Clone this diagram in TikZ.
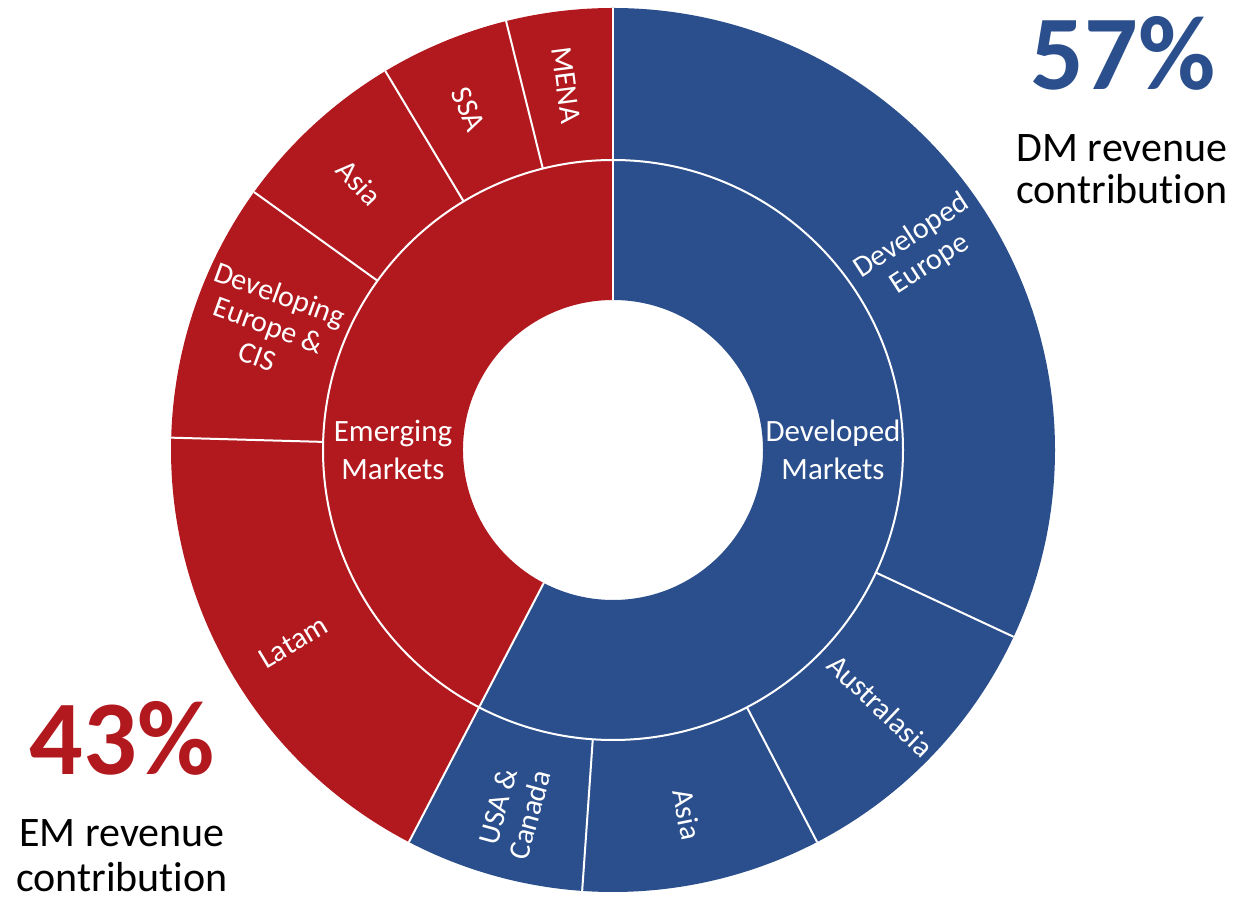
\documentclass[tikz,border=0pt]{standalone}
\usepackage{fontspec}
\setmainfont{Carlito}[Ligatures={NoCommon}]
\definecolor{dmblue}{RGB}{43,79,140}
\definecolor{emred}{RGB}{178,25,30}
\tikzset{
  sep/.style={draw=white, line width=2pt},
  ringlbl/.style={text=white, align=center, inner sep=0pt, font=\fontsize{30}{33}\selectfont},
  corelbl/.style={text=white, align=center, inner sep=0pt, font=\fontsize{31}{37.5}\selectfont},
  bigpct/.style={anchor=base, inner sep=0pt, font=\fontsize{106}{106}\selectfont\bfseries},
  caption/.style={anchor=base, inner sep=0pt, text=black, font=\fontsize{42}{46}\selectfont}
}
\newcommand{\sector}[5]{% color, a1, a2, rin, rout
  \fill[#1] (#2:#5) arc[start angle=#2, end angle=#3, radius=#5] -- (#3:#4) arc[start angle=#3, end angle=#2, radius=#4] -- cycle;}
\begin{document}
\begin{tikzpicture}[x=1pt,y=1pt]
\useasboundingbox (0,0) rectangle (1243,900);
\begin{scope}[shift={(613,450)}]
  % inner ring
  \sector{dmblue}{-117.5}{90}{150}{290}
  \sector{emred}{90}{242.5}{150}{290}
  % outer ring DM
  \sector{dmblue}{-25}{90}{290}{442}
  \sector{dmblue}{-62.5}{-25}{290}{442}
  \sector{dmblue}{-94}{-62.5}{290}{442}
  \sector{dmblue}{-117.5}{-94}{290}{442}
  % outer ring EM
  \sector{emred}{90}{104}{290}{442}
  \sector{emred}{104}{121}{290}{442}
  \sector{emred}{121}{144.3}{290}{442}
  \sector{emred}{144.3}{178.4}{290}{442}
  \sector{emred}{178.4}{242.5}{290}{442}
  % separators
  \draw[sep] (0,0) circle[radius=290];
  \foreach \a in {90,242.5} \draw[sep] (\a:150) -- (\a:442);
  \foreach \a in {-25,-62.5,-94,104,121,144.3,178.4} \draw[sep] (\a:290) -- (\a:442);
  % inner labels
  \node[corelbl] (em) at (-220,0) {Emerging\\Markets};
  \node[corelbl] (dm) at (220,0) {Developed\\Markets};
  % outer labels
  \node[ringlbl, rotate=33] (deveur) at (33:367) {Developed\\Europe};
  \node[ringlbl, rotate=-43.7] (austr) at (-43.7:370) {Australasia};
  \node[ringlbl, rotate=-78.5] (asiadm) at (-78.5:372) {Asia};
  \node[ringlbl, rotate=74.6] (usa) at (254.6:374) {USA \&\\Canada};
  \node[ringlbl, rotate=31] (latam) at (211:373) {Latam};
  \node[ringlbl, rotate=-20] (deveurcis) at (160:366) {Developing\\Europe \&\\CIS};
  \node[ringlbl, rotate=-46.5] (asiaem) at (133.5:368) {Asia};
  \node[ringlbl, rotate=-67] (ssa) at (113:370) {SSA};
  \node[ringlbl, rotate=-82.7] (mena) at (97.3:368) {MENA};
\end{scope}
\node[bigpct, text=dmblue] (dmpct) at (1123,810) {57\%};
\node[caption] (dmcap1) at (1122,738) {DM revenue};
\node[caption] (dmcap2) at (1122,696) {contribution};
\node[bigpct, text=emred] (empct) at (122,125) {43\%};
\node[caption] (emcap1) at (122,53) {EM revenue};
\node[caption] (emcap2) at (122,8) {contribution};
\end{tikzpicture}
\end{document}
